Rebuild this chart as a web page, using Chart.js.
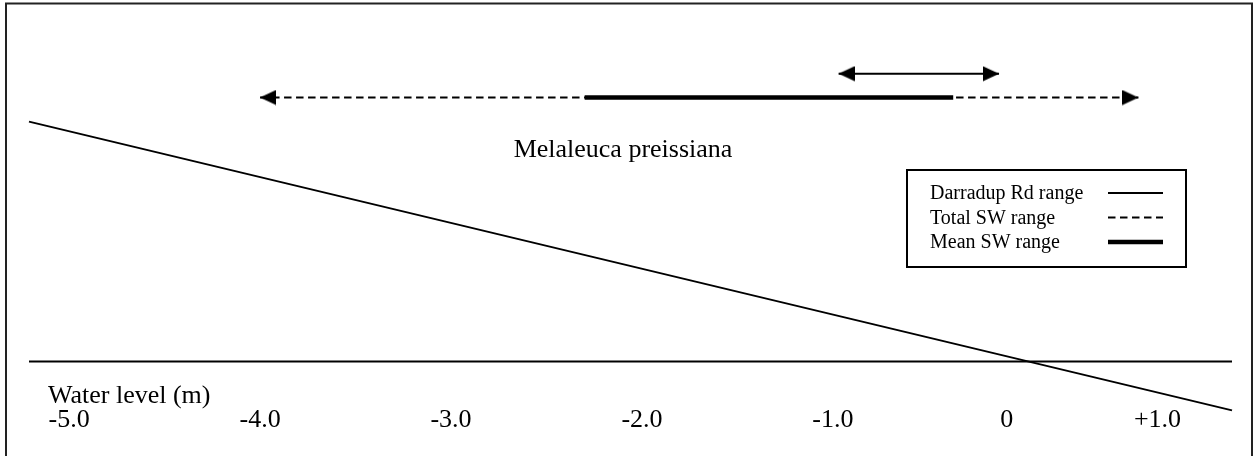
<!DOCTYPE html>
<html>
<head>
<meta charset="utf-8">
<script src="https://cdn.jsdelivr.net/npm/chart.js@4.4.1/dist/chart.umd.min.js"></script>
<style>
    html, body { margin: 0; padding: 0; background: #fff; }
    canvas { display: block; }
</style>
</head>
<body>
<canvas id="chart" width="1254" height="456"></canvas>
<script>
// ========== DATOS ==========
// eje x = nivel de agua (m)
const tickValues = [-5.0, -4.0, -3.0, -2.0, -1.0, -0.09, 0.7];   // donde aparecen las etiquetas
const tickLabels = ['-5.0', '-4.0', '-3.0', '-2.0', '-1.0', '0', '+1.0'];

const darradupRange = [-0.97, -0.13];
const totalSWRange = [-4.0, 0.6];
const meanSWRange = [-2.3, -0.37];
const darradupRow = 9.31;
const swRow = 8.54;

const slopeX = [-5.21, 1.09];
const slopeY = [7.76, -1.58];
const waterX = [-5.21, 1.09];
const waterY = [0, 0];

const FONT = "'Liberation Serif', 'Times New Roman', serif";

// ========== FLECHAS ==========
function makeArrow() {
    const c = document.createElement('canvas');
    c.width = 32; c.height = 16;
    const g = c.getContext('2d');
    g.fillStyle = '#000';
    g.beginPath();
    g.moveTo(0, 0.5);
    g.lineTo(16, 8);
    g.lineTo(0, 15.5);
    g.closePath();
    g.fill();
    return c;
}
const arrow = makeArrow();

const pts = (xs, y) => xs.map(x => ({ x, y }));
const line = (xs, ys) => xs.map((x, i) => ({ x, y: ys[i] }));

// ========== PLUGIN: textos, leyenda y marco ==========
const extras = {
    id: 'extras',
    afterDraw(chart) {
        const ctx = chart.ctx;
        ctx.save();
        ctx.strokeStyle = '#222';
        ctx.lineWidth = 2;
        ctx.strokeRect(6, 3.5, 1246, 470);

        ctx.fillStyle = '#000';
        ctx.textBaseline = 'alphabetic';
        ctx.font = '26px ' + FONT;
        ctx.textAlign = 'center';
        ctx.fillText('Melaleuca preissiana', 623, 157);
        ctx.textAlign = 'left';
        ctx.fillText('Water level (m)', 48, 403);

        // leyenda
        ctx.lineWidth = 2;
        ctx.strokeStyle = '#000';
        ctx.strokeRect(907, 170, 279, 97);
        ctx.font = '20px ' + FONT;
        const items = chart.data.datasets.filter(d => d.inLegend).sort((a, b) => a.inLegend - b.inLegend);
        items.forEach((d, i) => {
            const base = 199 + i * 24.5;
            ctx.fillText(d.label, 930, base);
            ctx.beginPath();
            ctx.setLineDash(d.borderDash || []);
            ctx.lineWidth = d.borderWidth;
            ctx.moveTo(1108, base - 6);
            ctx.lineTo(1163, base - 6);
            ctx.stroke();
        });
        ctx.restore();
    }
};

// ========== GRAFICO ==========
new Chart(document.getElementById('chart'), {
    type: 'scatter',
    data: {
        datasets: [
            {
                label: 'Darradup Rd range', inLegend: 1, order: 0,
                data: pts(darradupRange, darradupRow),
                showLine: true, borderColor: '#000', borderWidth: 2,
                pointStyle: arrow, rotation: [180, 0], pointRadius: 1
            },
            {
                label: 'Mean SW range', inLegend: 3, order: 1,
                data: pts(meanSWRange, swRow),
                showLine: true, borderColor: '#000', borderWidth: 4.5, borderCapStyle: 'butt',
                pointRadius: 0
            },
            {
                label: 'Total SW range', inLegend: 2, order: 2,
                data: pts(totalSWRange, swRow),
                showLine: true, borderColor: '#000', borderWidth: 2, borderDash: [7.5, 4.5],
                pointStyle: arrow, rotation: [180, 0], pointRadius: 1
            },
            {
                label: 'slope', order: 3, clip: false,
                data: line(slopeX, slopeY),
                showLine: true, borderColor: '#000', borderWidth: 2, pointRadius: 0
            },
            {
                label: 'water', order: 4,
                data: line(waterX, waterY),
                showLine: true, borderColor: '#000', borderWidth: 2, pointRadius: 0
            }
        ]
    },
    options: {
        responsive: false,
        animation: false,
        events: [],
        layout: { padding: { left: 29, right: 22, top: 40, bottom: 20 } },
        plugins: { legend: { display: false }, tooltip: { enabled: false } },
        scales: {
            x: {
                type: 'linear',
                min: slopeX[0], max: slopeX[1],
                grid: { display: false, drawTicks: false },
                border: { display: false },
                afterBuildTicks: scale => { scale.ticks = tickValues.map(v => ({ value: v })); },
                ticks: {
                    autoSkip: false, maxRotation: 0, padding: 0,
                    color: '#000', font: { family: FONT, size: 26 },
                    callback: (v, i) => tickLabels[i]
                }
            },
            y: { display: false, min: -1.4, max: 10.4 }
        }
    },
    plugins: [extras]
});
</script>
</body>
</html>
